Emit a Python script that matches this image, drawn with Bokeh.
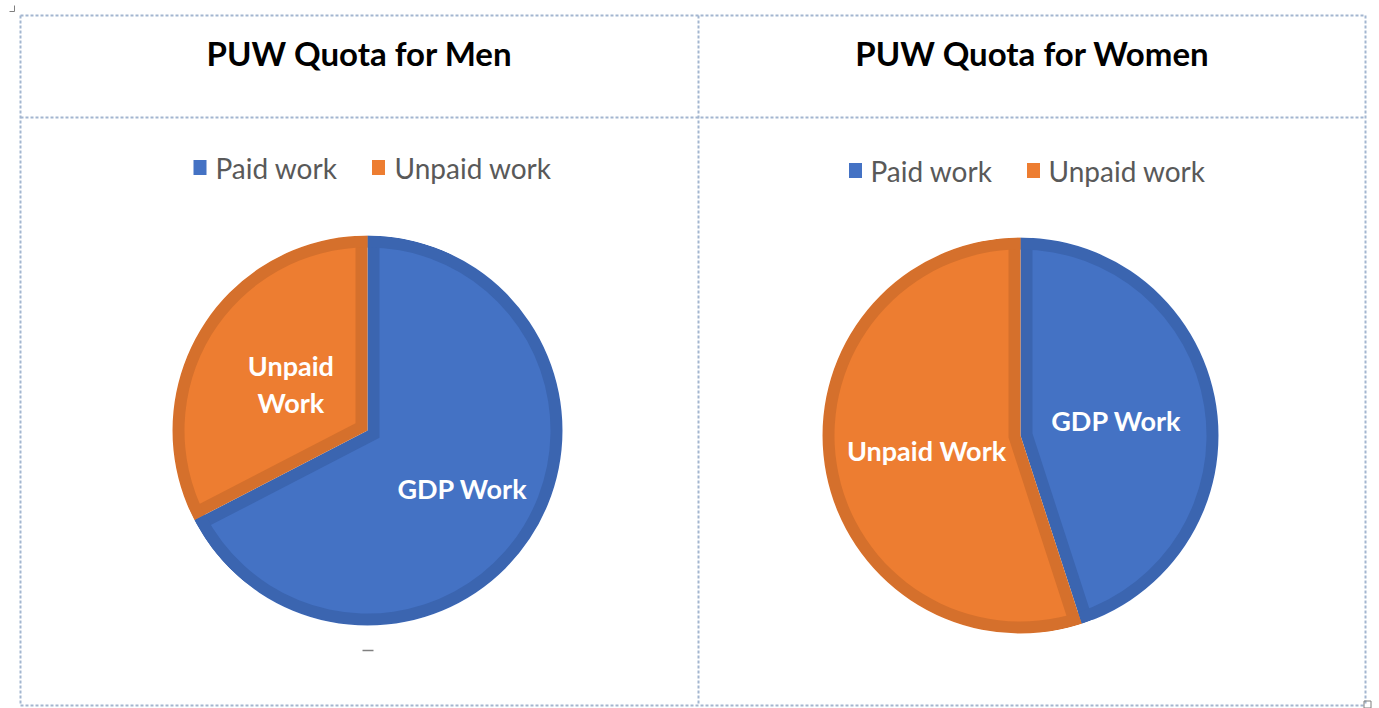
import math
from bokeh.plotting import figure
from bokeh.models import Range1d
from bokeh.core.properties import value
from bokeh.embed import file_html
from bokeh.resources import INLINE

# ---- data ----
categories = ["Paid work", "Unpaid work"]
titles = ["PUW Quota for Men", "PUW Quota for Women"]
men_values = [67.4, 32.6]
women_values = [45.0, 55.0]
men_slice_labels = ["Unpaid", "Work", "GDP Work"]
women_slice_labels = ["GDP Work", "Unpaid Work"]

fill_colors = ["#4472C4", "#ED7D31"]
edge_colors = ["#3B65B0", "#D5702C"]
border_color = "#A3B6D0"
legend_text_color = "#595959"

W, H = 1379, 708
p = figure(width=W, height=H, x_range=Range1d(0, W), y_range=Range1d(0, H),
           output_backend="svg", toolbar_location=None, min_border=0,
           outline_line_color=None, background_fill_color="white",
           border_fill_color="white")
p.axis.visible = False
p.grid.visible = False


def Y(img_y):
    return H - img_y


# ---- table borders (dashed) ----
bx = [20, 698, 1365]
by = [15, 117, 705]
p.segment(x0=bx, y0=[Y(by[0])] * 3, x1=bx, y1=[Y(by[-1])] * 3,
          line_color=border_color, line_width=2, line_dash="3 2")
p.segment(x0=[bx[0]] * 3, y0=[Y(v) for v in by], x1=[bx[-1]] * 3, y1=[Y(v) for v in by],
          line_color=border_color, line_width=2, line_dash="3 2")
# small corner marks
p.segment(x0=[9, 14], y0=[Y(11), Y(11)], x1=[14, 14], y1=[Y(11), Y(5)],
          line_color="#7F7F7F", line_width=1)
p.rect(x=[1367], y=[Y(704)], width=7, height=7, fill_color=None,
       line_color="#7F7F7F", line_width=1)


def draw_pie(cx, cy, r, vals):
    total = sum(vals)
    fr = [v / total for v in vals]
    paid_span = 2 * math.pi * fr[0]
    starts = [math.pi / 2 - paid_span, math.pi / 2]
    ends = [math.pi / 2, math.pi / 2 + 2 * math.pi * fr[1]]
    d = 12
    p.wedge(x=[cx] * 2, y=[cy] * 2, radius=r, start_angle=starts, end_angle=ends,
            fill_color=edge_colors, line_color=None)
    xs, ys, rs, mids = [], [], [], []
    for i in range(2):
        half = (ends[i] - starts[i]) / 2
        mid = starts[i] + half
        s = d / math.sin(half)
        xs.append(cx + s * math.cos(mid))
        ys.append(cy + s * math.sin(mid))
        rs.append(r - d + s)
        mids.append(mid)
    p.wedge(x=xs, y=ys, radius=rs, start_angle=starts, end_angle=ends,
            fill_color=fill_colors, line_color=None)
    p.annular_wedge(x=[cx] * 2, y=[cy] * 2, inner_radius=r - d, outer_radius=r,
                    start_angle=starts, end_angle=ends, fill_color=edge_colors, line_color=None)
    p.annulus(x=[cx], y=[cy], inner_radius=r, outer_radius=r + 40,
              fill_color="white", line_color=None)
    return mids


def slice_labels(cx, cy, r, mids, fracs, texts, dys):
    lx = [cx + f * r * math.cos(m) for f, m in zip(fracs, mids)]
    ly = [cy + f * r * math.sin(m) + dy for f, m, dy in zip(fracs, mids, dys)]
    p.text(x=lx, y=ly, text=texts, text_color="white", text_font=value("Lato"),
           text_font_style="bold", text_font_size="27px", text_align="center",
           text_baseline="middle")


def draw_legend(x_sq, x_txt, y):
    p.rect(x=x_sq, y=[Y(y)] * 2, width=13, height=15, fill_color=fill_colors, line_color=None)
    p.text(x=x_txt, y=[Y(y)] * 2, text=categories, text_color=legend_text_color,
           text_font=value("Lato"), text_font_size="28px", text_align="left",
           text_baseline="middle")


# ---- panel: men ----
mcx, mcy, mr = 367, Y(430), 195
m_mids = draw_pie(mcx, mcy, mr, men_values)
slice_labels(mcx, mcy, mr, [m_mids[1], m_mids[1], m_mids[0]], [0.46, 0.46, 0.57],
             men_slice_labels, [18, -19, 0])
draw_legend([199.5, 378], [215, 394], 167)

# ---- panel: women ----
wcx, wcy, wr = 1020, Y(435), 198
w_mids = draw_pie(wcx, wcy, wr, women_values)
slice_labels(wcx, wcy, wr, w_mids, [0.49, 0.48], women_slice_labels, [0, 0])
draw_legend([855, 1033], [870, 1048], 170)

# ---- titles ----
p.text(x=[359, 1032], y=[Y(52)] * 2, text=titles, text_color="black",
       text_font=value("Lato"), text_font_style="bold", text_font_size="33px",
       text_align="center", text_baseline="middle")

# small stray mark under the left pie
p.segment(x0=[362], y0=[Y(650)], x1=[373], y1=[Y(650)], line_color="#808080", line_width=1.5)

open("out.html", "w").write(file_html(p, INLINE))
